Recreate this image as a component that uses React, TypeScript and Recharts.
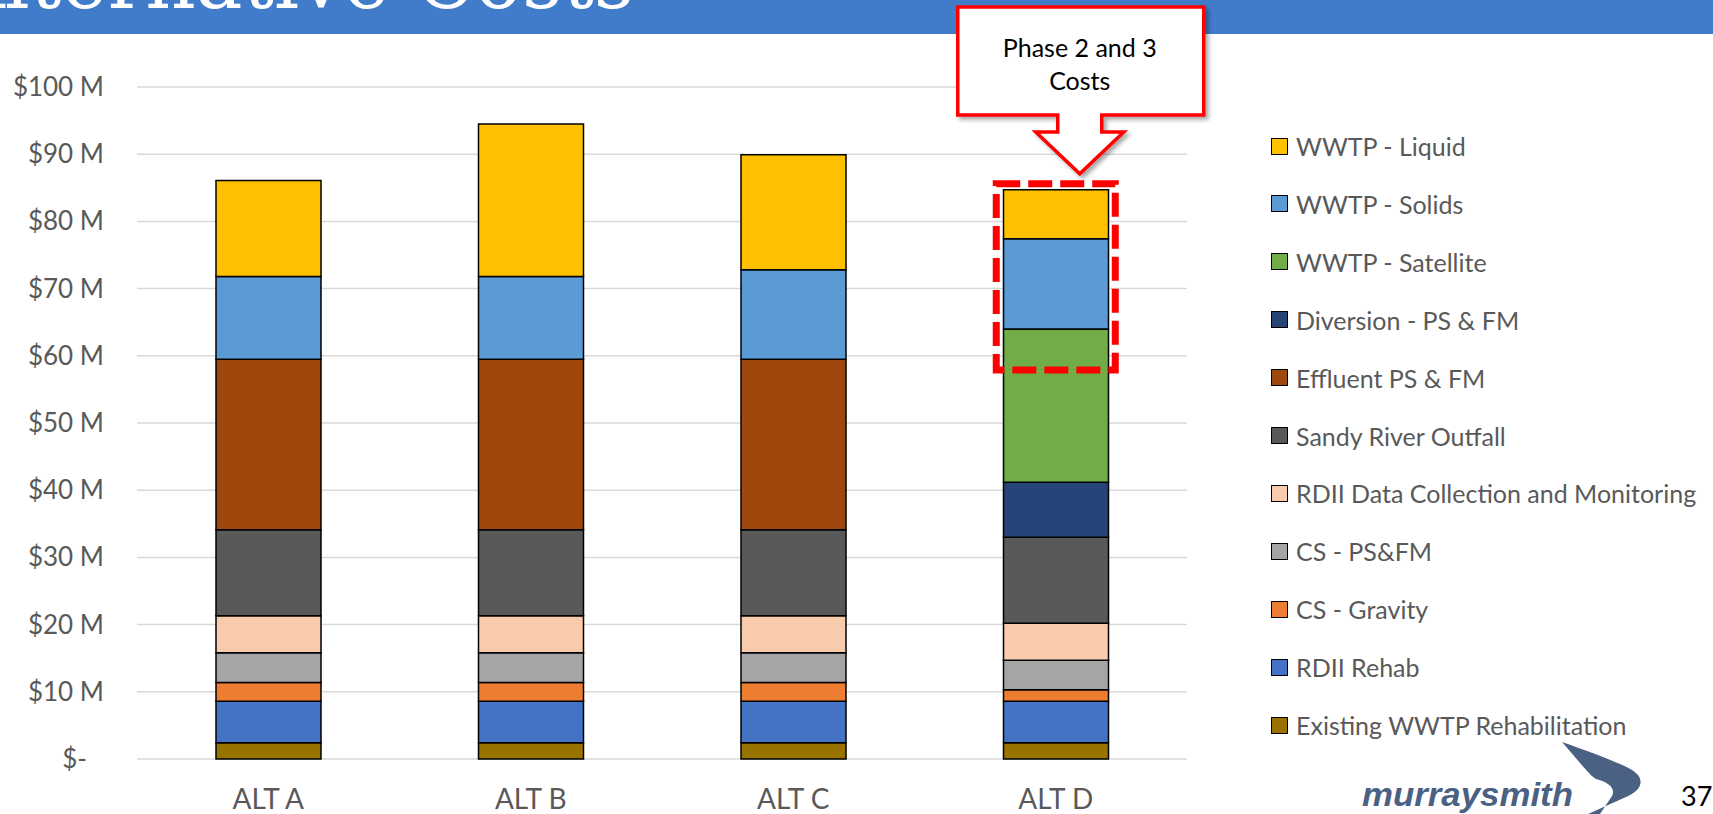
import React from 'react';
import { BarChart, Bar, XAxis, YAxis, CartesianGrid } from 'recharts';

const categories = ['ALT A', 'ALT B', 'ALT C', 'ALT D'];

// stack order bottom -> top
const seriesNames = [
  'Existing WWTP Rehabilitation',
  'RDII Rehab',
  'CS - Gravity',
  'CS - PS&FM',
  'RDII Data Collection and Monitoring',
  'Sandy River Outfall',
  'Effluent PS & FM',
  'Diversion - PS & FM',
  'WWTP - Satellite',
  'WWTP - Solids',
  'WWTP - Liquid',
];

const seriesColors = [
  '#997300',
  '#4472C4',
  '#ED7D31',
  '#A5A5A5',
  '#F8CBAD',
  '#595959',
  '#9E480E',
  '#264478',
  '#70AD47',
  '#5B9BD5',
  '#FFC000',
];

// values in $ millions, per category (ALT A, B, C, D)
const existingWwtpRehab = [2.4, 2.4, 2.4, 2.4];
const rdiiRehab = [6.2, 6.2, 6.2, 6.2];
const csGravity = [2.8, 2.8, 2.8, 1.7];
const csPsFm = [4.4, 4.4, 4.4, 4.4];
const rdiiData = [5.5, 5.5, 5.5, 5.5];
const sandyRiverOutfall = [12.8, 12.8, 12.8, 12.8];
const effluentPsFm = [25.4, 25.4, 25.4, 0];
const diversionPsFm = [0, 0, 0, 8.2];
const wwtpSatellite = [0, 0, 0, 22.8];
const wwtpSolids = [12.3, 12.3, 13.3, 13.4];
const wwtpLiquid = [14.3, 22.7, 17.1, 7.3];

const seriesValues = [
  existingWwtpRehab,
  rdiiRehab,
  csGravity,
  csPsFm,
  rdiiData,
  sandyRiverOutfall,
  effluentPsFm,
  diversionPsFm,
  wwtpSatellite,
  wwtpSolids,
  wwtpLiquid,
];

const yTicks = [0, 10, 20, 30, 40, 50, 60, 70, 80, 90, 100];
const yTickLabels = ['$-', '$10 M', '$20 M', '$30 M', '$40 M', '$50 M', '$60 M', '$70 M', '$80 M', '$90 M', '$100 M'];

const calloutText = ['Phase 2 and 3', 'Costs'];
const highlightBottomValue = 57.9;

const data = categories.map((c, i) => {
  const row: Record<string, any> = { name: c };
  seriesNames.forEach((s, k) => {
    row[s] = seriesValues[k][i];
  });
  return row;
});

// layout
const W = 1713;
const H = 814;
const PLOT_TOP = 87;
const X_AXIS_H = 55;
const Y_AXIS_W = 137;
const RIGHT_MARGIN = 526;
const PLOT_BOTTOM = H - X_AXIS_H;
const PLOT_LEFT = Y_AXIS_W;
const PLOT_RIGHT = W - RIGHT_MARGIN;
const BAR_SIZE = 105;
const Y_MAX = 100;

const FONT = 'Lato, "Open Sans", sans-serif';
const GRAY = '#595959';

const yPix = (v: number) => PLOT_BOTTOM - (v / Y_MAX) * (PLOT_BOTTOM - PLOT_TOP);
const band = (PLOT_RIGHT - PLOT_LEFT) / categories.length;

const YTick = (props: any) => {
  const { y, payload } = props;
  const idx = yTicks.indexOf(payload.value);
  const label = yTickLabels[idx] ?? '';
  const isZero = payload.value === 0;
  return (
    <text
      x={isZero ? 87 : 104}
      y={y}
      dy={9}
      textAnchor="end"
      fill={GRAY}
      fontFamily={FONT}
      fontSize={26}
    >
      {label}
    </text>
  );
};

const XTick = (props: any) => {
  const { x, payload } = props;
  return (
    <text x={x} y={809} textAnchor="middle" fill={GRAY} fontFamily={FONT} fontSize={28}>
      {payload.value}
    </text>
  );
};

const LegendBlock = () => {
  const items = seriesNames.map((n, i) => ({ n, c: seriesColors[i] })).reverse();
  return (
    <div style={{ position: 'absolute', left: 1271, top: 131, width: 448, height: 660 }}>
      {items.map((it, i) => (
        <div
          key={it.n}
          style={{
            position: 'absolute',
            left: 0,
            top: i * 57.9,
            height: 30,
            display: 'flex',
            alignItems: 'center',
            whiteSpace: 'nowrap',
          }}
        >
          <div
            style={{
              width: 15,
              height: 15,
              background: it.c,
              border: '1.5px solid #000',
              marginRight: 8,
              flexShrink: 0,
            }}
          />
          <span style={{ fontFamily: FONT, fontSize: 25, color: GRAY, lineHeight: '30px' }}>{it.n}</span>
        </div>
      ))}
    </div>
  );
};

export default function App() {
  const dIdx = 3;
  const dCenter = PLOT_LEFT + band * (dIdx + 0.5);
  const dTotal = seriesValues.reduce((s, arr) => s + arr[dIdx], 0);
  const hlLeft = dCenter - BAR_SIZE / 2 - 7;
  const hlRight = dCenter + BAR_SIZE / 2 + 7;
  const hlTop = yPix(dTotal) - 6;
  const hlBottom = yPix(highlightBottomValue);

  // callout geometry
  const tipX = dCenter + 24;
  const tipY = hlTop - 10;
  const boxL = tipX - 122;
  const boxR = tipX + 124;
  const boxT = 7;
  const boxB = 115;
  const stemHalf = 22;
  const headHalf = 44;
  const headY = 132;
  const calloutPath = `M${boxL},${boxT} H${boxR} V${boxB} H${tipX + stemHalf} V${headY} H${tipX + headHalf} L${tipX},${tipY} L${tipX - headHalf},${headY} H${tipX - stemHalf} V${boxB} H${boxL} Z`;

  return (
    <div style={{ position: 'absolute', left: 0, top: 0, width: W, height: H, overflow: 'hidden', background: '#fff' }}>
      <svg width={W} height={40} style={{ position: 'absolute', left: 0, top: 0 }}>
        <rect x={0} y={0} width={W} height={34} fill="#417CCA" />
        <text
          x={-52}
          y={8}
          fill="#fff"
          fontFamily='"DejaVu Serif", serif'
          fontSize={80}
          textLength={686}
          lengthAdjust="spacingAndGlyphs"
        >
          Alternative Costs
        </text>
      </svg>

      <div style={{ position: 'absolute', left: 0, top: 0 }}>
        <BarChart
          width={W}
          height={H}
          data={data}
          margin={{ top: PLOT_TOP, right: RIGHT_MARGIN, bottom: 0, left: 0 }}
          barSize={BAR_SIZE}
        >
          <CartesianGrid vertical={false} stroke="#D9D9D9" strokeWidth={1.5} />
          <XAxis
            dataKey="name"
            height={X_AXIS_H}
            axisLine={false}
            tickLine={false}
            tick={<XTick />}
            interval={0}
          />
          <YAxis
            width={Y_AXIS_W}
            domain={[0, Y_MAX]}
            ticks={yTicks}
            axisLine={false}
            tickLine={false}
            tick={<YTick />}
            interval={0}
          />
          {seriesNames.map((s, i) => (
            <Bar
              key={s}
              dataKey={s}
              stackId="a"
              fill={seriesColors[i]}
              stroke="#000"
              strokeWidth={1.5}
              isAnimationActive={false}
            />
          ))}
        </BarChart>
      </div>

      <LegendBlock />

      <svg width={W} height={H} style={{ position: 'absolute', left: 0, top: 0, pointerEvents: 'none' }}>
        <defs>
          <filter id="shadow" x="-10%" y="-10%" width="130%" height="130%">
            <feDropShadow dx={3} dy={3} stdDeviation={2} floodColor="#000" floodOpacity={0.35} />
          </filter>
        </defs>
        <rect
          x={hlLeft}
          y={hlTop}
          width={hlRight - hlLeft}
          height={hlBottom - hlTop}
          fill="none"
          stroke="#FF0000"
          strokeWidth={7}
          strokeDasharray="24 8"
        />
        <path d={calloutPath} fill="#fff" stroke="#FF0000" strokeWidth={3.5} filter="url(#shadow)" />
        <text x={tipX} y={57} textAnchor="middle" fontFamily={FONT} fontSize={25} fill="#000">
          {calloutText[0]}
        </text>
        <text x={tipX} y={90} textAnchor="middle" fontFamily={FONT} fontSize={25} fill="#000">
          {calloutText[1]}
        </text>

        {/* logo */}
        <text
          x={1362}
          y={806}
          fontFamily='"Liberation Sans", Arial, sans-serif'
          fontWeight="bold"
          fontStyle="italic"
          fontSize={34}
          fill="#4B6184"
          textLength={211}
          lengthAdjust="spacingAndGlyphs"
        >
          murraysmith
        </text>
        <path
          d="M1562,742 C1590,752 1618,762 1632,770 C1646,779 1642,790 1626,797 L1588,814 L1606,814 L1600,814 L1612,796 C1616,788 1608,782 1596,779 C1590,776 1578,760 1562,742 Z"
          fill="#4B6184"
        />
        <text x={1681} y={806} fontFamily={FONT} fontSize={27} fill="#000">
          37
        </text>
      </svg>
    </div>
  );
}
